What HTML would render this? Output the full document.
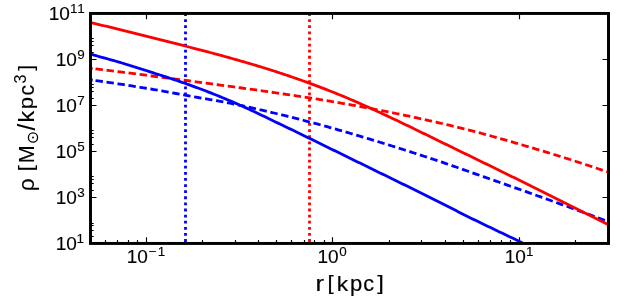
<!DOCTYPE html>
<html><head><meta charset="utf-8"><title>plot</title>
<style>html,body{margin:0;padding:0;background:#fff}svg{display:block}text{font-family:"Liberation Sans",sans-serif;fill:#000}</style></head>
<body>
<svg width="640" height="301" viewBox="0 0 640 301">
<rect x="0" y="0" width="640" height="301" fill="#fff"/>
<defs><clipPath id="c"><rect x="90.5" y="13.3" width="518.0" height="229.89999999999998"/></clipPath></defs>
<path d="M146.50,243.2 v-6.0 M146.50,13.3 v6.0 M332.50,243.2 v-6.0 M332.50,13.3 v6.0 M519.50,243.2 v-6.0 M519.50,13.3 v6.0 M90.50,243.2 v-3.2 M105.50,243.2 v-3.2 M117.50,243.2 v-3.2 M128.50,243.2 v-3.2 M137.50,243.2 v-3.2 M202.50,243.2 v-3.2 M235.50,243.2 v-3.2 M258.50,243.2 v-3.2 M276.50,243.2 v-3.2 M291.50,243.2 v-3.2 M304.50,243.2 v-3.2 M314.50,243.2 v-3.2 M324.50,243.2 v-3.2 M389.50,243.2 v-3.2 M421.50,243.2 v-3.2 M445.50,243.2 v-3.2 M463.50,243.2 v-3.2 M478.50,243.2 v-3.2 M490.50,243.2 v-3.2 M501.50,243.2 v-3.2 M510.50,243.2 v-3.2 M575.50,243.2 v-3.2 M608.50,243.2 v-3.2 M90.5,243.50 h6.0 M608.5,243.50 h-6.0 M90.5,197.50 h6.0 M608.5,197.50 h-6.0 M90.5,151.50 h6.0 M608.5,151.50 h-6.0 M90.5,105.50 h6.0 M608.5,105.50 h-6.0 M90.5,59.50 h6.0 M608.5,59.50 h-6.0 M90.5,13.50 h6.0 M608.5,13.50 h-6.0 M90.5,236.50 h3.2 M90.5,230.50 h3.2 M90.5,225.50 h3.2 M90.5,223.50 h3.2 M90.5,190.50 h3.2 M90.5,183.50 h3.2 M90.5,179.50 h3.2 M90.5,176.50 h3.2 M90.5,144.50 h3.2 M90.5,137.50 h3.2 M90.5,133.50 h3.2 M90.5,130.50 h3.2 M90.5,98.50 h3.2 M90.5,91.50 h3.2 M90.5,87.50 h3.2 M90.5,84.50 h3.2 M90.5,52.50 h3.2 M90.5,45.50 h3.2 M90.5,41.50 h3.2 M90.5,38.50 h3.2" stroke="#000" stroke-width="1.15" fill="none"/>
<g clip-path="url(#c)" fill="none">
<path d="M185.5,13.3 V243.2" stroke="#0000ff" stroke-width="2.8" stroke-dasharray="2.8 3.309" stroke-dashoffset="0.21"/>
<path d="M309.5,13.3 V243.2" stroke="#ff0000" stroke-width="2.8" stroke-dasharray="2.8 3.309" stroke-dashoffset="0.21"/>
<path d="M80.0,66.98 L82.0,67.22 L84.0,67.47 L86.0,67.71 L88.0,67.96 L90.0,68.21 L92.0,68.45 L94.0,68.70 L96.0,68.94 L98.0,69.19 L100.0,69.44 L102.0,69.68 L104.0,69.93 L106.0,70.18 L108.0,70.42 L110.0,70.67 L112.0,70.92 L114.0,71.17 L116.0,71.42 L118.0,71.66 L120.0,71.91 L122.0,72.16 L124.0,72.41 L126.0,72.66 L128.0,72.91 L130.0,73.16 L132.0,73.42 L134.0,73.67 L136.0,73.92 L138.0,74.18 L140.0,74.44 L142.0,74.70 L144.0,74.95 L146.0,75.21 L148.0,75.47 L150.0,75.73 L152.0,75.99 L154.0,76.25 L156.0,76.51 L158.0,76.77 L160.0,77.03 L162.0,77.29 L164.0,77.55 L166.0,77.81 L168.0,78.08 L170.0,78.34 L172.0,78.60 L174.0,78.87 L176.0,79.13 L178.0,79.40 L180.0,79.67 L182.0,79.93 L184.0,80.20 L186.0,80.47 L188.0,80.73 L190.0,81.00 L192.0,81.27 L194.0,81.54 L196.0,81.81 L198.0,82.08 L200.0,82.34 L202.0,82.61 L204.0,82.88 L206.0,83.15 L208.0,83.42 L210.0,83.69 L212.0,83.96 L214.0,84.23 L216.0,84.49 L218.0,84.76 L220.0,85.03 L222.0,85.30 L224.0,85.57 L226.0,85.84 L228.0,86.11 L230.0,86.38 L232.0,86.65 L234.0,86.92 L236.0,87.19 L238.0,87.47 L240.0,87.74 L242.0,88.01 L244.0,88.29 L246.0,88.57 L248.0,88.84 L250.0,89.12 L252.0,89.40 L254.0,89.68 L256.0,89.96 L258.0,90.24 L260.0,90.53 L262.0,90.81 L264.0,91.09 L266.0,91.38 L268.0,91.67 L270.0,91.95 L272.0,92.24 L274.0,92.53 L276.0,92.82 L278.0,93.11 L280.0,93.41 L282.0,93.70 L284.0,94.00 L286.0,94.29 L288.0,94.59 L290.0,94.89 L292.0,95.19 L294.0,95.49 L296.0,95.79 L298.0,96.10 L300.0,96.40 L302.0,96.71 L304.0,97.02 L306.0,97.33 L308.0,97.64 L310.0,97.96 L312.0,98.27 L314.0,98.59 L316.0,98.91 L318.0,99.24 L320.0,99.56 L322.0,99.89 L324.0,100.22 L326.0,100.55 L328.0,100.88 L330.0,101.22 L332.0,101.56 L334.0,101.90 L336.0,102.24 L338.0,102.58 L340.0,102.93 L342.0,103.27 L344.0,103.63 L346.0,103.98 L348.0,104.33 L350.0,104.69 L352.0,105.05 L354.0,105.41 L356.0,105.77 L358.0,106.14 L360.0,106.50 L362.0,106.87 L364.0,107.25 L366.0,107.62 L368.0,108.00 L370.0,108.37 L372.0,108.75 L374.0,109.14 L376.0,109.52 L378.0,109.91 L380.0,110.30 L382.0,110.69 L384.0,111.08 L386.0,111.48 L388.0,111.88 L390.0,112.28 L392.0,112.68 L394.0,113.09 L396.0,113.50 L398.0,113.91 L400.0,114.32 L402.0,114.73 L404.0,115.15 L406.0,115.57 L408.0,115.99 L410.0,116.41 L412.0,116.84 L414.0,117.27 L416.0,117.70 L418.0,118.13 L420.0,118.57 L422.0,119.00 L424.0,119.44 L426.0,119.88 L428.0,120.33 L430.0,120.77 L432.0,121.22 L434.0,121.68 L436.0,122.13 L438.0,122.59 L440.0,123.05 L442.0,123.51 L444.0,123.98 L446.0,124.45 L448.0,124.92 L450.0,125.39 L452.0,125.87 L454.0,126.36 L456.0,126.84 L458.0,127.33 L460.0,127.82 L462.0,128.32 L464.0,128.82 L466.0,129.32 L468.0,129.83 L470.0,130.34 L472.0,130.86 L474.0,131.37 L476.0,131.90 L478.0,132.42 L480.0,132.96 L482.0,133.49 L484.0,134.03 L486.0,134.58 L488.0,135.12 L490.0,135.67 L492.0,136.23 L494.0,136.79 L496.0,137.35 L498.0,137.91 L500.0,138.48 L502.0,139.05 L504.0,139.63 L506.0,140.20 L508.0,140.78 L510.0,141.37 L512.0,141.95 L514.0,142.54 L516.0,143.13 L518.0,143.72 L520.0,144.31 L522.0,144.90 L524.0,145.50 L526.0,146.09 L528.0,146.68 L530.0,147.27 L532.0,147.87 L534.0,148.46 L536.0,149.06 L538.0,149.65 L540.0,150.25 L542.0,150.85 L544.0,151.45 L546.0,152.05 L548.0,152.66 L550.0,153.27 L552.0,153.88 L554.0,154.50 L556.0,155.11 L558.0,155.74 L560.0,156.36 L562.0,156.99 L564.0,157.63 L566.0,158.26 L568.0,158.90 L570.0,159.53 L572.0,160.17 L574.0,160.82 L576.0,161.46 L578.0,162.11 L580.0,162.76 L582.0,163.41 L584.0,164.06 L586.0,164.72 L588.0,165.38 L590.0,166.04 L592.0,166.70 L594.0,167.37 L596.0,168.04 L598.0,168.71 L600.0,169.38 L602.0,170.06 L604.0,170.74 L606.0,171.42 L608.0,172.10 L610.0,172.79 L612.0,173.48 L614.0,174.17" stroke="#ff0000" stroke-width="2.8" stroke-dasharray="7.4 3.71" stroke-dashoffset="-15.62"/>
<path d="M80.0,78.53 L82.0,78.79 L84.0,79.06 L86.0,79.32 L88.0,79.59 L90.0,79.85 L92.0,80.12 L94.0,80.39 L96.0,80.66 L98.0,80.94 L100.0,81.21 L102.0,81.49 L104.0,81.77 L106.0,82.06 L108.0,82.35 L110.0,82.63 L112.0,82.93 L114.0,83.22 L116.0,83.52 L118.0,83.82 L120.0,84.12 L122.0,84.42 L124.0,84.73 L126.0,85.04 L128.0,85.35 L130.0,85.66 L132.0,85.98 L134.0,86.30 L136.0,86.62 L138.0,86.94 L140.0,87.26 L142.0,87.59 L144.0,87.92 L146.0,88.25 L148.0,88.58 L150.0,88.91 L152.0,89.25 L154.0,89.59 L156.0,89.93 L158.0,90.27 L160.0,90.61 L162.0,90.96 L164.0,91.31 L166.0,91.67 L168.0,92.03 L170.0,92.39 L172.0,92.76 L174.0,93.13 L176.0,93.50 L178.0,93.87 L180.0,94.24 L182.0,94.61 L184.0,94.98 L186.0,95.35 L188.0,95.72 L190.0,96.08 L192.0,96.44 L194.0,96.79 L196.0,97.15 L198.0,97.50 L200.0,97.84 L202.0,98.19 L204.0,98.53 L206.0,98.88 L208.0,99.22 L210.0,99.57 L212.0,99.92 L214.0,100.27 L216.0,100.62 L218.0,100.98 L220.0,101.34 L222.0,101.71 L224.0,102.08 L226.0,102.46 L228.0,102.84 L230.0,103.24 L232.0,103.64 L234.0,104.05 L236.0,104.47 L238.0,104.89 L240.0,105.32 L242.0,105.74 L244.0,106.18 L246.0,106.61 L248.0,107.05 L250.0,107.49 L252.0,107.93 L254.0,108.38 L256.0,108.83 L258.0,109.28 L260.0,109.74 L262.0,110.20 L264.0,110.66 L266.0,111.13 L268.0,111.59 L270.0,112.06 L272.0,112.54 L274.0,113.01 L276.0,113.49 L278.0,113.98 L280.0,114.46 L282.0,114.95 L284.0,115.44 L286.0,115.93 L288.0,116.43 L290.0,116.93 L292.0,117.43 L294.0,117.94 L296.0,118.44 L298.0,118.96 L300.0,119.47 L302.0,119.98 L304.0,120.50 L306.0,121.03 L308.0,121.55 L310.0,122.08 L312.0,122.61 L314.0,123.15 L316.0,123.68 L318.0,124.22 L320.0,124.77 L322.0,125.31 L324.0,125.86 L326.0,126.42 L328.0,126.97 L330.0,127.53 L332.0,128.09 L334.0,128.65 L336.0,129.22 L338.0,129.78 L340.0,130.36 L342.0,130.93 L344.0,131.50 L346.0,132.08 L348.0,132.66 L350.0,133.25 L352.0,133.83 L354.0,134.42 L356.0,135.01 L358.0,135.60 L360.0,136.20 L362.0,136.80 L364.0,137.39 L366.0,138.00 L368.0,138.60 L370.0,139.20 L372.0,139.81 L374.0,140.42 L376.0,141.03 L378.0,141.65 L380.0,142.26 L382.0,142.88 L384.0,143.50 L386.0,144.12 L388.0,144.74 L390.0,145.36 L392.0,145.99 L394.0,146.61 L396.0,147.24 L398.0,147.87 L400.0,148.50 L402.0,149.13 L404.0,149.77 L406.0,150.41 L408.0,151.04 L410.0,151.68 L412.0,152.33 L414.0,152.97 L416.0,153.62 L418.0,154.26 L420.0,154.91 L422.0,155.57 L424.0,156.22 L426.0,156.87 L428.0,157.53 L430.0,158.19 L432.0,158.85 L434.0,159.51 L436.0,160.18 L438.0,160.85 L440.0,161.52 L442.0,162.20 L444.0,162.88 L446.0,163.57 L448.0,164.25 L450.0,164.94 L452.0,165.64 L454.0,166.33 L456.0,167.03 L458.0,167.73 L460.0,168.43 L462.0,169.13 L464.0,169.83 L466.0,170.54 L468.0,171.24 L470.0,171.95 L472.0,172.66 L474.0,173.36 L476.0,174.07 L478.0,174.77 L480.0,175.48 L482.0,176.18 L484.0,176.89 L486.0,177.59 L488.0,178.29 L490.0,178.99 L492.0,179.69 L494.0,180.39 L496.0,181.09 L498.0,181.79 L500.0,182.49 L502.0,183.20 L504.0,183.90 L506.0,184.60 L508.0,185.31 L510.0,186.01 L512.0,186.72 L514.0,187.42 L516.0,188.13 L518.0,188.84 L520.0,189.55 L522.0,190.25 L524.0,190.96 L526.0,191.68 L528.0,192.39 L530.0,193.10 L532.0,193.81 L534.0,194.53 L536.0,195.24 L538.0,195.96 L540.0,196.67 L542.0,197.39 L544.0,198.11 L546.0,198.83 L548.0,199.54 L550.0,200.27 L552.0,200.99 L554.0,201.71 L556.0,202.43 L558.0,203.15 L560.0,203.88 L562.0,204.60 L564.0,205.33 L566.0,206.05 L568.0,206.78 L570.0,207.51 L572.0,208.23 L574.0,208.96 L576.0,209.69 L578.0,210.42 L580.0,211.15 L582.0,211.88 L584.0,212.61 L586.0,213.34 L588.0,214.07 L590.0,214.80 L592.0,215.53 L594.0,216.27 L596.0,217.00 L598.0,217.73 L600.0,218.47 L602.0,219.20 L604.0,219.94 L606.0,220.67 L608.0,221.41 L610.0,222.15 L612.0,222.88 L614.0,223.62" stroke="#0000ff" stroke-width="2.8" stroke-dasharray="7.4 3.71" stroke-dashoffset="-15.64"/>
<path d="M91.0,68.33 L92.7,68.54" stroke="#ff0000" stroke-width="2.8"/><path d="M91.0,79.99 L92.7,80.22" stroke="#0000ff" stroke-width="2.8"/>
<path d="M80.0,50.73 L82.0,51.35 L84.0,51.97 L86.0,52.59 L88.0,53.21 L90.0,53.83 L92.0,54.45 L94.0,55.06 L96.0,55.66 L98.0,56.24 L100.0,56.81 L102.0,57.37 L104.0,57.92 L106.0,58.47 L108.0,59.02 L110.0,59.57 L112.0,60.12 L114.0,60.67 L116.0,61.24 L118.0,61.81 L120.0,62.39 L122.0,62.99 L124.0,63.61 L126.0,64.23 L128.0,64.86 L130.0,65.49 L132.0,66.12 L134.0,66.74 L136.0,67.37 L138.0,68.00 L140.0,68.63 L142.0,69.26 L144.0,69.90 L146.0,70.53 L148.0,71.16 L150.0,71.80 L152.0,72.44 L154.0,73.07 L156.0,73.71 L158.0,74.35 L160.0,75.00 L162.0,75.64 L164.0,76.29 L166.0,76.95 L168.0,77.61 L170.0,78.27 L172.0,78.94 L174.0,79.61 L176.0,80.29 L178.0,80.97 L180.0,81.66 L182.0,82.35 L184.0,83.04 L186.0,83.74 L188.0,84.44 L190.0,85.15 L192.0,85.86 L194.0,86.58 L196.0,87.31 L198.0,88.04 L200.0,88.78 L202.0,89.53 L204.0,90.29 L206.0,91.06 L208.0,91.83 L210.0,92.61 L212.0,93.40 L214.0,94.19 L216.0,94.99 L218.0,95.79 L220.0,96.61 L222.0,97.43 L224.0,98.26 L226.0,99.09 L228.0,99.94 L230.0,100.79 L232.0,101.65 L234.0,102.52 L236.0,103.40 L238.0,104.28 L240.0,105.17 L242.0,106.07 L244.0,106.97 L246.0,107.88 L248.0,108.79 L250.0,109.71 L252.0,110.64 L254.0,111.58 L256.0,112.52 L258.0,113.47 L260.0,114.43 L262.0,115.39 L264.0,116.35 L266.0,117.32 L268.0,118.29 L270.0,119.26 L272.0,120.23 L274.0,121.19 L276.0,122.16 L278.0,123.12 L280.0,124.08 L282.0,125.03 L284.0,125.99 L286.0,126.95 L288.0,127.92 L290.0,128.88 L292.0,129.85 L294.0,130.82 L296.0,131.78 L298.0,132.75 L300.0,133.73 L302.0,134.70 L304.0,135.67 L306.0,136.65 L308.0,137.63 L310.0,138.60 L312.0,139.58 L314.0,140.56 L316.0,141.54 L318.0,142.52 L320.0,143.50 L322.0,144.48 L324.0,145.46 L326.0,146.44 L328.0,147.42 L330.0,148.41 L332.0,149.39 L334.0,150.37 L336.0,151.36 L338.0,152.34 L340.0,153.33 L342.0,154.31 L344.0,155.29 L346.0,156.27 L348.0,157.25 L350.0,158.23 L352.0,159.21 L354.0,160.19 L356.0,161.16 L358.0,162.14 L360.0,163.11 L362.0,164.09 L364.0,165.07 L366.0,166.04 L368.0,167.02 L370.0,168.00 L372.0,168.98 L374.0,169.96 L376.0,170.94 L378.0,171.92 L380.0,172.90 L382.0,173.87 L384.0,174.85 L386.0,175.83 L388.0,176.80 L390.0,177.78 L392.0,178.76 L394.0,179.73 L396.0,180.71 L398.0,181.69 L400.0,182.66 L402.0,183.64 L404.0,184.62 L406.0,185.60 L408.0,186.58 L410.0,187.56 L412.0,188.55 L414.0,189.53 L416.0,190.52 L418.0,191.50 L420.0,192.49 L422.0,193.48 L424.0,194.47 L426.0,195.47 L428.0,196.47 L430.0,197.46 L432.0,198.47 L434.0,199.47 L436.0,200.48 L438.0,201.49 L440.0,202.50 L442.0,203.51 L444.0,204.52 L446.0,205.54 L448.0,206.56 L450.0,207.57 L452.0,208.59 L454.0,209.60 L456.0,210.62 L458.0,211.63 L460.0,212.64 L462.0,213.65 L464.0,214.66 L466.0,215.66 L468.0,216.66 L470.0,217.66 L472.0,218.65 L474.0,219.63 L476.0,220.61 L478.0,221.58 L480.0,222.55 L482.0,223.51 L484.0,224.47 L486.0,225.43 L488.0,226.39 L490.0,227.35 L492.0,228.32 L494.0,229.28 L496.0,230.24 L498.0,231.20 L500.0,232.16 L502.0,233.10 L504.0,234.05 L506.0,235.00 L508.0,235.95 L510.0,236.90 L512.0,237.85 L514.0,238.82 L516.0,239.79 L518.0,240.77 L520.0,241.76 L522.0,242.76 L524.0,243.76 L526.0,244.76 L528.0,245.76 L530.0,246.76 L532.0,247.76 L534.0,248.76 L536.0,249.76 L538.0,250.76 L540.0,251.76 L542.0,252.76 L544.0,253.76 L546.0,254.76 L548.0,255.76 L550.0,256.76 L552.0,257.76 L554.0,258.76 L556.0,259.76 L558.0,260.76 L560.0,261.76 L562.0,262.76 L564.0,263.76 L566.0,264.76 L568.0,265.76 L570.0,266.76 L572.0,267.76 L574.0,268.76 L576.0,269.76 L578.0,270.76 L580.0,271.76 L582.0,272.76 L584.0,273.76 L586.0,274.76 L588.0,275.76 L590.0,276.76 L592.0,277.76 L594.0,278.76 L596.0,279.76 L598.0,280.76 L600.0,281.76 L602.0,282.76 L604.0,283.76 L606.0,284.76 L608.0,285.76 L610.0,286.76 L612.0,287.76 L614.0,288.76" stroke="#0000ff" stroke-width="2.8"/>
<path d="M80.0,20.00 L82.0,20.48 L84.0,20.96 L86.0,21.44 L88.0,21.91 L90.0,22.39 L92.0,22.87 L94.0,23.35 L96.0,23.83 L98.0,24.31 L100.0,24.79 L102.0,25.27 L104.0,25.75 L106.0,26.23 L108.0,26.71 L110.0,27.19 L112.0,27.67 L114.0,28.15 L116.0,28.63 L118.0,29.11 L120.0,29.60 L122.0,30.08 L124.0,30.56 L126.0,31.05 L128.0,31.54 L130.0,32.03 L132.0,32.53 L134.0,33.03 L136.0,33.53 L138.0,34.04 L140.0,34.54 L142.0,35.05 L144.0,35.56 L146.0,36.07 L148.0,36.58 L150.0,37.09 L152.0,37.60 L154.0,38.11 L156.0,38.62 L158.0,39.13 L160.0,39.63 L162.0,40.13 L164.0,40.64 L166.0,41.14 L168.0,41.65 L170.0,42.15 L172.0,42.66 L174.0,43.17 L176.0,43.67 L178.0,44.18 L180.0,44.69 L182.0,45.20 L184.0,45.71 L186.0,46.23 L188.0,46.74 L190.0,47.26 L192.0,47.77 L194.0,48.29 L196.0,48.81 L198.0,49.33 L200.0,49.85 L202.0,50.38 L204.0,50.90 L206.0,51.43 L208.0,51.96 L210.0,52.49 L212.0,53.02 L214.0,53.56 L216.0,54.09 L218.0,54.63 L220.0,55.17 L222.0,55.72 L224.0,56.26 L226.0,56.81 L228.0,57.37 L230.0,57.92 L232.0,58.48 L234.0,59.04 L236.0,59.60 L238.0,60.17 L240.0,60.74 L242.0,61.32 L244.0,61.89 L246.0,62.47 L248.0,63.06 L250.0,63.65 L252.0,64.24 L254.0,64.84 L256.0,65.44 L258.0,66.04 L260.0,66.65 L262.0,67.26 L264.0,67.88 L266.0,68.50 L268.0,69.13 L270.0,69.76 L272.0,70.40 L274.0,71.04 L276.0,71.68 L278.0,72.33 L280.0,72.99 L282.0,73.65 L284.0,74.32 L286.0,74.99 L288.0,75.66 L290.0,76.34 L292.0,77.02 L294.0,77.71 L296.0,78.40 L298.0,79.10 L300.0,79.80 L302.0,80.51 L304.0,81.22 L306.0,81.93 L308.0,82.66 L310.0,83.38 L312.0,84.12 L314.0,84.86 L316.0,85.60 L318.0,86.35 L320.0,87.11 L322.0,87.87 L324.0,88.64 L326.0,89.41 L328.0,90.19 L330.0,90.98 L332.0,91.77 L334.0,92.57 L336.0,93.37 L338.0,94.18 L340.0,95.00 L342.0,95.82 L344.0,96.65 L346.0,97.49 L348.0,98.33 L350.0,99.18 L352.0,100.04 L354.0,100.90 L356.0,101.77 L358.0,102.64 L360.0,103.52 L362.0,104.41 L364.0,105.30 L366.0,106.19 L368.0,107.09 L370.0,107.99 L372.0,108.90 L374.0,109.82 L376.0,110.73 L378.0,111.65 L380.0,112.58 L382.0,113.51 L384.0,114.44 L386.0,115.38 L388.0,116.32 L390.0,117.26 L392.0,118.20 L394.0,119.15 L396.0,120.10 L398.0,121.06 L400.0,122.01 L402.0,122.97 L404.0,123.93 L406.0,124.89 L408.0,125.86 L410.0,126.82 L412.0,127.79 L414.0,128.76 L416.0,129.73 L418.0,130.70 L420.0,131.68 L422.0,132.65 L424.0,133.63 L426.0,134.60 L428.0,135.58 L430.0,136.56 L432.0,137.53 L434.0,138.51 L436.0,139.49 L438.0,140.47 L440.0,141.44 L442.0,142.42 L444.0,143.40 L446.0,144.38 L448.0,145.35 L450.0,146.33 L452.0,147.31 L454.0,148.28 L456.0,149.26 L458.0,150.23 L460.0,151.21 L462.0,152.18 L464.0,153.16 L466.0,154.13 L468.0,155.10 L470.0,156.08 L472.0,157.05 L474.0,158.03 L476.0,159.00 L478.0,159.98 L480.0,160.95 L482.0,161.93 L484.0,162.90 L486.0,163.88 L488.0,164.85 L490.0,165.83 L492.0,166.81 L494.0,167.79 L496.0,168.76 L498.0,169.74 L500.0,170.72 L502.0,171.71 L504.0,172.69 L506.0,173.67 L508.0,174.65 L510.0,175.64 L512.0,176.63 L514.0,177.61 L516.0,178.60 L518.0,179.59 L520.0,180.59 L522.0,181.58 L524.0,182.57 L526.0,183.56 L528.0,184.56 L530.0,185.55 L532.0,186.55 L534.0,187.54 L536.0,188.53 L538.0,189.53 L540.0,190.52 L542.0,191.52 L544.0,192.51 L546.0,193.51 L548.0,194.50 L550.0,195.50 L552.0,196.50 L554.0,197.49 L556.0,198.49 L558.0,199.48 L560.0,200.48 L562.0,201.48 L564.0,202.47 L566.0,203.47 L568.0,204.47 L570.0,205.46 L572.0,206.46 L574.0,207.46 L576.0,208.46 L578.0,209.45 L580.0,210.45 L582.0,211.45 L584.0,212.45 L586.0,213.44 L588.0,214.44 L590.0,215.44 L592.0,216.44 L594.0,217.44 L596.0,218.44 L598.0,219.44 L600.0,220.43 L602.0,221.43 L604.0,222.43 L606.0,223.43 L608.0,224.43 L610.0,225.43 L612.0,226.43 L614.0,227.43" stroke="#ff0000" stroke-width="2.8"/>
</g>
<rect x="90.5" y="13.45" width="518" height="230" fill="none" stroke="#000" stroke-width="2.95"/>
<g opacity="0.999">
<text x="0" y="0" font-size="17.8" stroke="#000" stroke-width="0.12" transform="translate(55.66,249.50) scale(1.07,1)">10</text><text x="0" y="0" font-size="12.7" stroke="#000" stroke-width="0.12" transform="translate(76.60,242.60) scale(1.06,1)">1</text>
<text x="0" y="0" font-size="17.8" stroke="#000" stroke-width="0.12" transform="translate(55.66,203.52) scale(1.07,1)">10</text><text x="0" y="0" font-size="12.7" stroke="#000" stroke-width="0.12" transform="translate(77.24,196.62) scale(1.06,1)">3</text>
<text x="0" y="0" font-size="17.8" stroke="#000" stroke-width="0.12" transform="translate(55.66,157.54) scale(1.07,1)">10</text><text x="0" y="0" font-size="12.7" stroke="#000" stroke-width="0.12" transform="translate(77.24,150.64) scale(1.06,1)">5</text>
<text x="0" y="0" font-size="17.8" stroke="#000" stroke-width="0.12" transform="translate(55.66,111.56) scale(1.07,1)">10</text><text x="0" y="0" font-size="12.7" stroke="#000" stroke-width="0.12" transform="translate(77.24,104.66) scale(1.06,1)">7</text>
<text x="0" y="0" font-size="17.8" stroke="#000" stroke-width="0.12" transform="translate(55.66,65.58) scale(1.07,1)">10</text><text x="0" y="0" font-size="12.7" stroke="#000" stroke-width="0.12" transform="translate(77.24,58.68) scale(1.06,1)">9</text>
<text x="0" y="0" font-size="17.8" stroke="#000" stroke-width="0.12" transform="translate(48.66,19.60) scale(1.07,1)">10</text><text x="0" y="0" font-size="12.7" stroke="#000" stroke-width="0.12" transform="translate(70.00,12.70) scale(1.06,1)">1</text><text x="0" y="0" font-size="12.7" stroke="#000" stroke-width="0.12" transform="translate(77.30,12.70) scale(1.06,1)">1</text>
<text x="0" y="0" font-size="17.8" stroke="#000" stroke-width="0.12" transform="translate(126.66,262.90) scale(1.07,1)">10</text><text x="0" y="0" font-size="12.7" stroke="#000" stroke-width="0.12" transform="translate(148.50,256.00) scale(1.06,1)">−</text><text x="0" y="0" font-size="12.7" stroke="#000" stroke-width="0.12" transform="translate(157.80,256.00) scale(1.06,1)">1</text>
<text x="0" y="0" font-size="17.8" stroke="#000" stroke-width="0.12" transform="translate(317.46,262.90) scale(1.07,1)">10</text><text x="0" y="0" font-size="12.7" stroke="#000" stroke-width="0.12" transform="translate(339.24,256.00) scale(1.06,1)">0</text>
<text x="0" y="0" font-size="17.8" stroke="#000" stroke-width="0.12" transform="translate(504.66,262.90) scale(1.07,1)">10</text><text x="0" y="0" font-size="12.7" stroke="#000" stroke-width="0.12" transform="translate(526.00,256.00) scale(1.06,1)">1</text>
<text x="0" y="0" font-size="22.5" stroke="#000" stroke-width="0.22" transform="translate(315.40,291.40) scale(1.138,0.975)">r</text>
<text x="0" y="0" font-size="22.5" stroke="#000" stroke-width="0.22" transform="translate(327.52,290.33) scale(0.984,0.873)">[</text>
<text x="0" y="0" font-size="22.5" stroke="#000" stroke-width="0.22" transform="translate(336.76,291.40) scale(1.014,0.938)">k</text>
<text x="0" y="0" font-size="22.5" stroke="#000" stroke-width="0.22" transform="translate(349.88,291.00) scale(0.978,0.942)">p</text>
<text x="0" y="0" font-size="22.5" stroke="#000" stroke-width="0.22" transform="translate(363.37,291.39) scale(0.969,0.973)">c</text>
<text x="0" y="0" font-size="22.5" stroke="#000" stroke-width="0.22" transform="translate(377.32,290.33) scale(1.051,0.873)">]</text>
<g transform="translate(0,190) rotate(-90)">
<text x="0" y="0" font-size="22.5" stroke="#000" stroke-width="0.1" transform="translate(-1.17,33.51) scale(1.015,0.941)">ρ</text>
<text x="0" y="0" font-size="22.5" stroke="#000" stroke-width="0.1" transform="translate(18.72,32.60) scale(0.984,0.877)">[</text>
<text x="0" y="0" font-size="22.5" stroke="#000" stroke-width="0.1" transform="translate(26.73,33.90) scale(0.957,1.008)">M</text>
<text x="0" y="0" font-size="22.5" stroke="#000" stroke-width="0.1" transform="translate(59.50,35.27) scale(1.072,1.041)">/</text>
<text x="0" y="0" font-size="22.5" stroke="#000" stroke-width="0.1" transform="translate(67.53,33.90) scale(1.034,0.957)">k</text>
<text x="0" y="0" font-size="22.5" stroke="#000" stroke-width="0.1" transform="translate(80.77,33.43) scale(0.988,0.936)">p</text>
<text x="0" y="0" font-size="22.5" stroke="#000" stroke-width="0.1" transform="translate(94.59,33.98) scale(0.948,0.982)">c</text>
<text x="0" y="0" font-size="22.5" stroke="#000" stroke-width="0.1" transform="translate(106.49,25.54) scale(0.712,0.716)">3</text>
<text x="0" y="0" font-size="22.5" stroke="#000" stroke-width="0.1" transform="translate(119.33,32.60) scale(0.939,0.877)">]</text>
</g>
<circle cx="33.0" cy="137.5" r="4.6" fill="none" stroke="#000" stroke-width="1.3"/><circle cx="33.0" cy="137.5" r="0.95" fill="#000"/>
</g>
</svg></body></html>
